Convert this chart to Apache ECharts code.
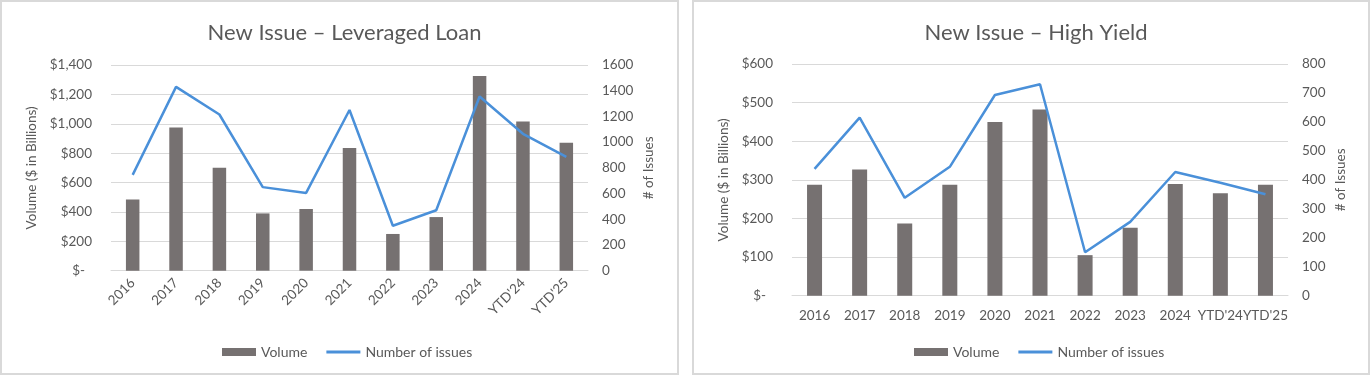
<!DOCTYPE html>
<html>
<head>
<meta charset="utf-8">
<script src="https://cdn.jsdelivr.net/npm/echarts@6/dist/echarts.min.js"></script>
<style>
html,body{margin:0;padding:0;background:#fff;}
#c{width:1371px;height:376px;}
</style>
</head>
<body>
<div id="c"></div>
<script>
const categories = ['2016','2017','2018','2019','2020','2021','2022','2023','2024',"YTD'24","YTD'25"];
const loanVolume = [485, 975, 700, 390, 420, 835, 250, 365, 1325, 1015, 870];
const loanIssues = [745, 1430, 1215, 650, 605, 1250, 350, 470, 1355, 1065, 885];
const hyVolume = [287, 327, 187, 287, 450, 482, 105, 176, 289, 265, 287];
const hyIssues = [438, 615, 338, 445, 693, 730, 150, 255, 427, 390, 350];

const FONT = 'Lato';
const TXT = '#595959';
const GRID = '#D9D9D9';
const BAR = '#767171';
const LINE = '#4A90D9';

const dollar = v => v === 0 ? '$-  ' : '$' + v.toLocaleString('en-US');
const plain = v => String(v);
const lab = { color: TXT, fontFamily: FONT, fontSize: 13.5 };

const chart = echarts.init(document.getElementById('c'), null, { renderer: 'canvas' });
chart.setOption({
  animation: false,
  backgroundColor: '#fff',
  graphic: [
    { type: 'rect', shape: { x: 1, y: 1, width: 677, height: 373 }, style: { fill: 'none', stroke: GRID, lineWidth: 2 }, silent: true, z: -1 },
    { type: 'rect', shape: { x: 693, y: 1, width: 676, height: 373 }, style: { fill: 'none', stroke: GRID, lineWidth: 2 }, silent: true, z: -1 }
  ],
  title: [
    { text: 'New Issue – Leveraged Loan', left: 339.5, top: 17, textAlign: 'center',
      textStyle: { color: TXT, fontFamily: FONT, fontSize: 22, fontWeight: 'normal' } },
    { text: 'New Issue – High Yield', left: 1031, top: 17, textAlign: 'center',
      textStyle: { color: TXT, fontFamily: FONT, fontSize: 22, fontWeight: 'normal' } }
  ],
  legend: [
    { left: 217, top: 340, itemWidth: 34, itemHeight: 8, itemGap: 19,
      textStyle: { color: TXT, fontFamily: FONT, fontSize: 14 },
      data: [{ name: 'Volume', icon: 'rect' }, { name: 'Number of issues', icon: 'path://M0,0 L34,0 L34,3 L0,3 Z' }] },
    { left: 909, top: 340, itemWidth: 34, itemHeight: 8, itemGap: 19,
      textStyle: { color: TXT, fontFamily: FONT, fontSize: 14 },
      data: [{ name: 'Volume', icon: 'rect' }, { name: 'Number of issues', icon: 'path://M0,0 L34,0 L34,3 L0,3 Z' }] }
  ],
  grid: [
    { left: 111, right: 783, top: 65, bottom: 105.3 },
    { left: 792, right: 83, top: 64, bottom: 80.3 }
  ],
  xAxis: [
    { gridIndex: 0, type: 'category', data: categories,
      axisLine: { lineStyle: { color: GRID } }, axisTick: { show: false },
      axisLabel: Object.assign({ rotate: 45, margin: 10, interval: 0 }, lab) },
    { gridIndex: 1, type: 'category', data: categories,
      axisLine: { lineStyle: { color: GRID } }, axisTick: { show: false },
      axisLabel: Object.assign({ margin: 13, interval: 0 }, lab) }
  ],
  yAxis: [
    { gridIndex: 0, type: 'value', min: 0, max: 1400, interval: 200,
      name: 'Volume ($ in Billions)', nameLocation: 'middle', nameGap: 72, nameRotate: 90,
      nameTextStyle: { color: TXT, fontFamily: FONT, fontSize: 13.5 },
      axisLine: { show: false }, axisTick: { show: false },
      splitLine: { lineStyle: { color: GRID, width: 1 } },
      axisLabel: Object.assign({ margin: 19, formatter: dollar }, lab) },
    { gridIndex: 0, type: 'value', position: 'right', min: 0, max: 1600, interval: 200,
      name: '# of Issues', nameLocation: 'middle', nameGap: 54, nameRotate: 90,
      nameTextStyle: { color: TXT, fontFamily: FONT, fontSize: 13.5 },
      axisLine: { show: false }, axisTick: { show: false }, splitLine: { show: false },
      axisLabel: Object.assign({ margin: 14, formatter: plain }, lab) },
    { gridIndex: 1, type: 'value', min: 0, max: 600, interval: 100,
      name: 'Volume ($ in Billions)', nameLocation: 'middle', nameGap: 61, nameRotate: 90,
      nameTextStyle: { color: TXT, fontFamily: FONT, fontSize: 13.5 },
      axisLine: { show: false }, axisTick: { show: false },
      splitLine: { lineStyle: { color: GRID, width: 1 } },
      axisLabel: Object.assign({ margin: 19, formatter: dollar }, lab) },
    { gridIndex: 1, type: 'value', position: 'right', min: 0, max: 800, interval: 100,
      name: '# of Issues', nameLocation: 'middle', nameGap: 46, nameRotate: 90,
      nameTextStyle: { color: TXT, fontFamily: FONT, fontSize: 13.5 },
      axisLine: { show: false }, axisTick: { show: false }, splitLine: { show: false },
      axisLabel: Object.assign({ margin: 14, formatter: plain }, lab) }
  ],
  series: [
    { name: 'Volume', type: 'bar', xAxisIndex: 0, yAxisIndex: 0, data: loanVolume, barWidth: 13.5,
      itemStyle: { color: BAR } },
    { name: 'Number of issues', type: 'line', xAxisIndex: 0, yAxisIndex: 1, data: loanIssues,
      symbol: 'none', lineStyle: { color: LINE, width: 2.5 }, itemStyle: { color: LINE } },
    { name: 'Volume', type: 'bar', xAxisIndex: 1, yAxisIndex: 2, data: hyVolume, barWidth: 15,
      itemStyle: { color: BAR } },
    { name: 'Number of issues', type: 'line', xAxisIndex: 1, yAxisIndex: 3, data: hyIssues,
      symbol: 'none', lineStyle: { color: LINE, width: 2.5 }, itemStyle: { color: LINE } }
  ]
});
</script>
</body>
</html>
